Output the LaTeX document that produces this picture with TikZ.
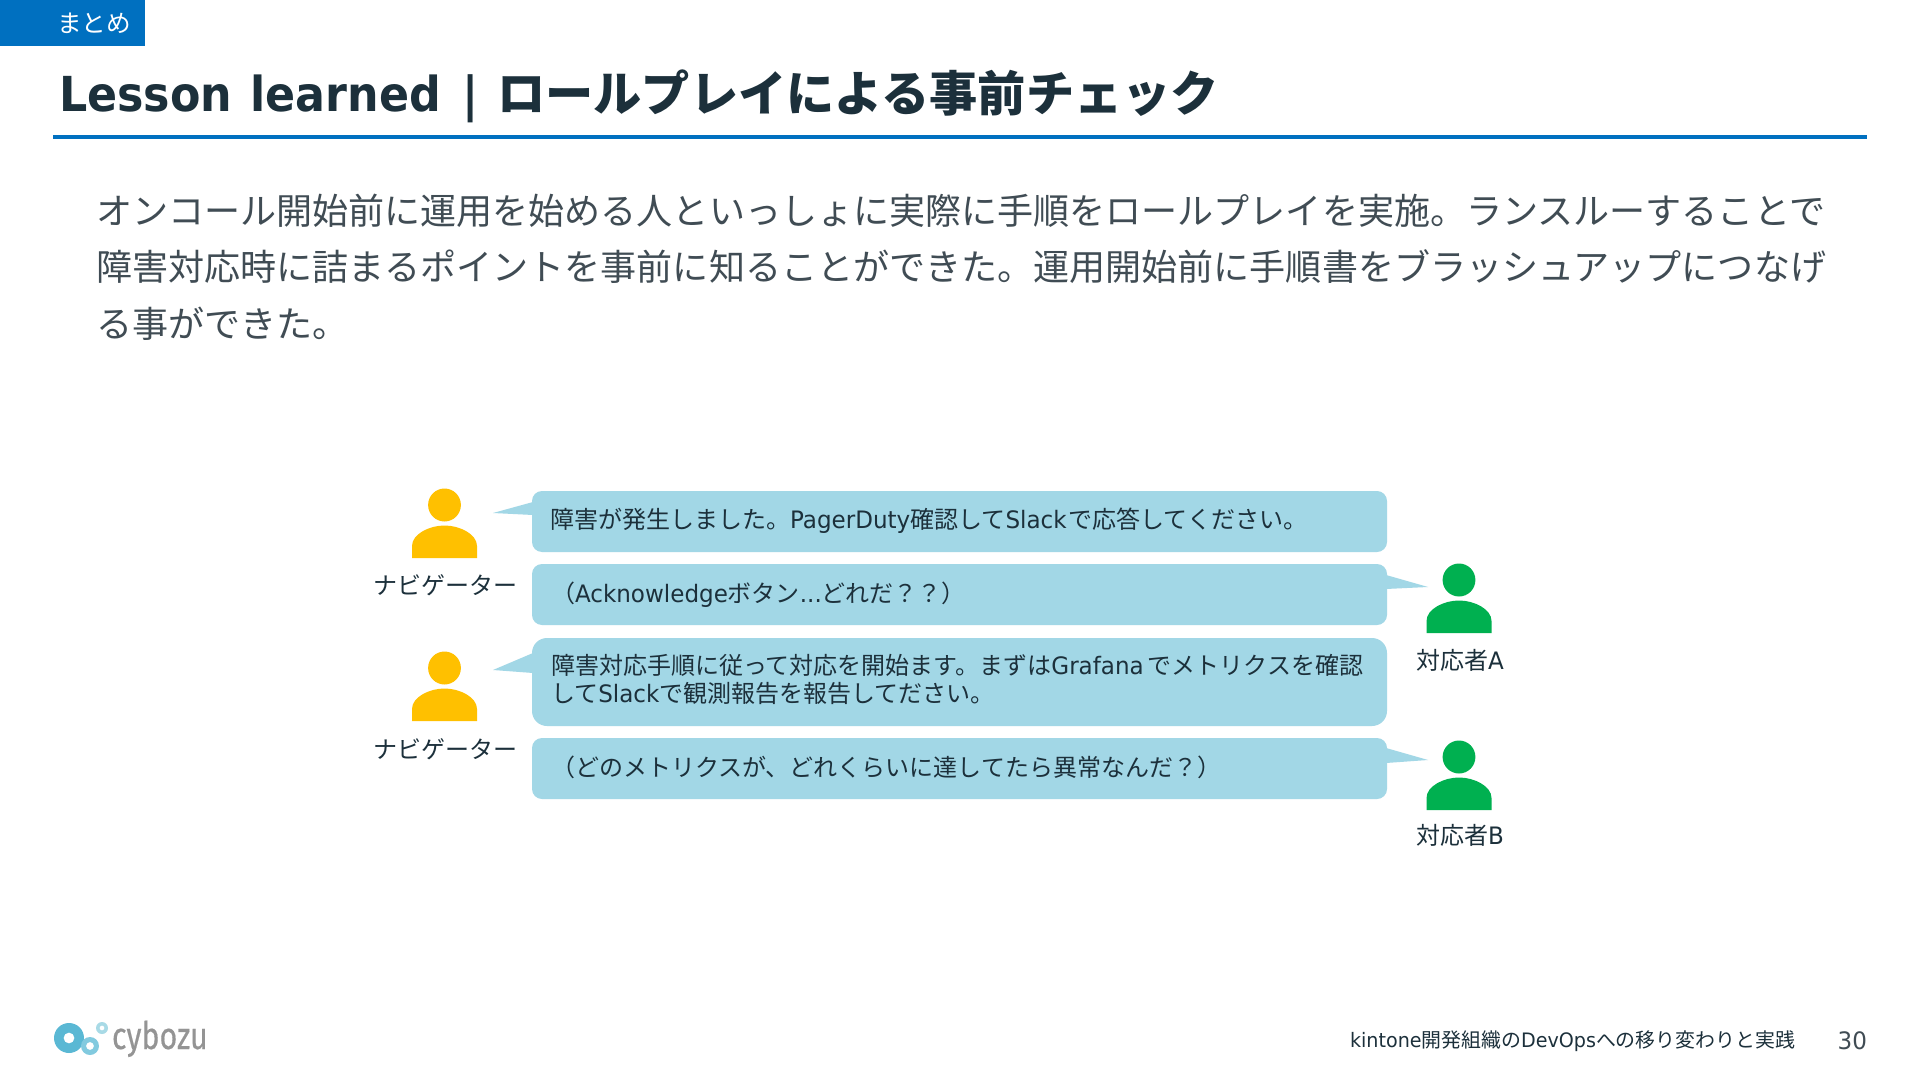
\documentclass[tikz,border=0pt]{standalone}
\usepackage{fontspec}
\setmainfont{Noto Sans CJK JP}
\newfontfamily\latfont[FakeStretch=0.96]{DejaVu Sans}
\newfontfamily\titlelat[FakeStretch=0.92]{DejaVu Sans}
\newfontfamily\logofont[FakeStretch=0.8,FakeBold=0.4]{Fira Sans}
\newcommand{\lat}[1]{{\latfont #1}}
\definecolor{tagblue}{HTML}{0070C0}
\definecolor{inkdark}{HTML}{1C303B}
\definecolor{inkbody}{HTML}{404C54}
\definecolor{bubblefill}{HTML}{A2D7E6}
\definecolor{navcol}{HTML}{FFC000}
\definecolor{respcol}{HTML}{00B050}
\definecolor{logoa}{HTML}{5AB8D4}
\definecolor{logob}{HTML}{82CADF}
\definecolor{logoc}{HTML}{A8DAE6}
\tikzset{
  txt/.style={inner sep=0pt,outer sep=0pt,text=inkdark},
  bubble/.style={fill=bubblefill,draw=none,rounded corners=10*0.5pt,inner sep=0pt},
  tailshape/.style={fill=bubblefill,draw=none},
  smalltxt/.style={txt,font=\fontsize{12}{14}\selectfont},
  bodytxt/.style={txt,text=inkbody,font=\fontsize{18.03}{28}\selectfont,anchor=base west},
  personfig/.pic={
    \fill[pic actions] (0,0) ellipse [x radius=16.4,y radius=16.5];
    \fill[pic actions] (-32.5,53) -- (-32.5,41) .. controls (-32.5,29) and (-15,20.5) .. (0,20.5)
      .. controls (15,20.5) and (32.5,29) .. (32.5,41) -- (32.5,53) -- cycle;
  }
}
\begin{document}
\begin{tikzpicture}[x=0.5pt,y=-0.5pt]
\useasboundingbox (0,0) rectangle (1920,1080);
\fill[white] (0,0) rectangle (1920,1080);
% header
\fill[tagblue] (0,0) rectangle (145,46);
\node[txt,text=white,font=\fontsize{12.3}{14}\selectfont,anchor=base] (tag) at (94,32.5) {まとめ};
\node[txt,font=\fontsize{24.1}{28}\bfseries\selectfont,anchor=base west] (title) at (59,112) {{\titlelat Lesson\hspace{1.5pt} learned}\hspace{10.5pt}{\titlelat |}\hspace{9.5pt}ロールプレイによる事前チェック};
\fill[tagblue] (53,135) rectangle (1867,139);
% body
\node[bodytxt] (body1) at (96,225) {オンコール開始前に運用を始める人といっしょに実際に手順をロールプレイを実施。ランスルーすることで};
\node[bodytxt] (body2) at (96,281) {障害対応時に詰まるポイントを事前に知ることができた。運用開始前に手順書をブラッシュアップにつなげ};
\node[bodytxt] (body3) at (96,337) {る事ができた。};
% tails
\fill[tailshape] (493,513) -- (533,502) -- (533,515) -- cycle;
\fill[tailshape] (1428,587) -- (1386,575) -- (1386,589) -- cycle;
\fill[tailshape] (493,670) -- (533,653) -- (533,673) -- cycle;
\fill[tailshape] (1428,760) -- (1386,748) -- (1386,763) -- cycle;
% bubbles
\path[bubble] (532,491) rectangle (1387,552);
\path[bubble] (532,564) rectangle (1387,625);
\path[bubble,rounded corners=15*0.5pt] (532,638) rectangle (1387,726);
\path[bubble] (532,738) rectangle (1387,799);
% bubble text
\node[smalltxt,anchor=base west] (m1) at (550,528) {障害が発生しました。\lat{PagerDuty}確認して\lat{Slack}\hspace{1pt}で応答してください。};
\node[smalltxt,anchor=base west] (m2) at (551,602) {（\lat{Acknowledge}ボタン\lat{...}どれだ？？）};
\node[smalltxt,anchor=base west] (m3a) at (551,674) {障害対応手順に従って対応を開始ます。まずは\lat{Grafana}\hspace{2pt}でメトリクスを確認};
\node[smalltxt,anchor=base west] (m3b) at (551,702) {して\lat{Slack}で観測報告を報告してださい。};
\node[smalltxt,anchor=base west] (m4) at (551,776) {（どのメトリクスが、どれくらいに達してたら異常なんだ？）};
% people
\pic[fill=navcol] at (444.5,505) {personfig};
\pic[fill=navcol] at (444.5,668) {personfig};
\pic[fill=respcol] at (1459,580) {personfig};
\pic[fill=respcol] at (1459,757) {personfig};
\node[smalltxt,anchor=base] (n1) at (445,594) {ナビゲーター};
\node[smalltxt,anchor=base] (n2) at (445,758) {ナビゲーター};
\node[smalltxt,anchor=base] (r1) at (1460,669) {対応者\lat{A}};
\node[smalltxt,anchor=base] (r2) at (1460,844) {対応者\lat{B}};
% footer logo
\fill[even odd rule,fill=logoa] (69,1038) circle (15) (69,1038) circle (5.5);
\fill[even odd rule,fill=logob] (90,1046) circle (9) (90,1046) circle (4);
\fill[even odd rule,fill=logoc] (102,1028) circle (6) (102,1028) circle (2.5);
\node[txt,text=black!42,font=\logofont\fontsize{19}{22}\selectfont,anchor=base west] (logo) at (112,1049) {cybozu};
% footer
\node[txt,font=\fontsize{9.95}{12}\selectfont,anchor=base east] (foot) at (1795,1047) {\lat{kintone}開発組織の\lat{DevOps}への移り変わりと実践};
\node[txt,text=inkbody,font=\fontsize{12}{14}\selectfont,anchor=base east] (page) at (1867,1049) {\lat{30}};
\end{tikzpicture}
\end{document}
